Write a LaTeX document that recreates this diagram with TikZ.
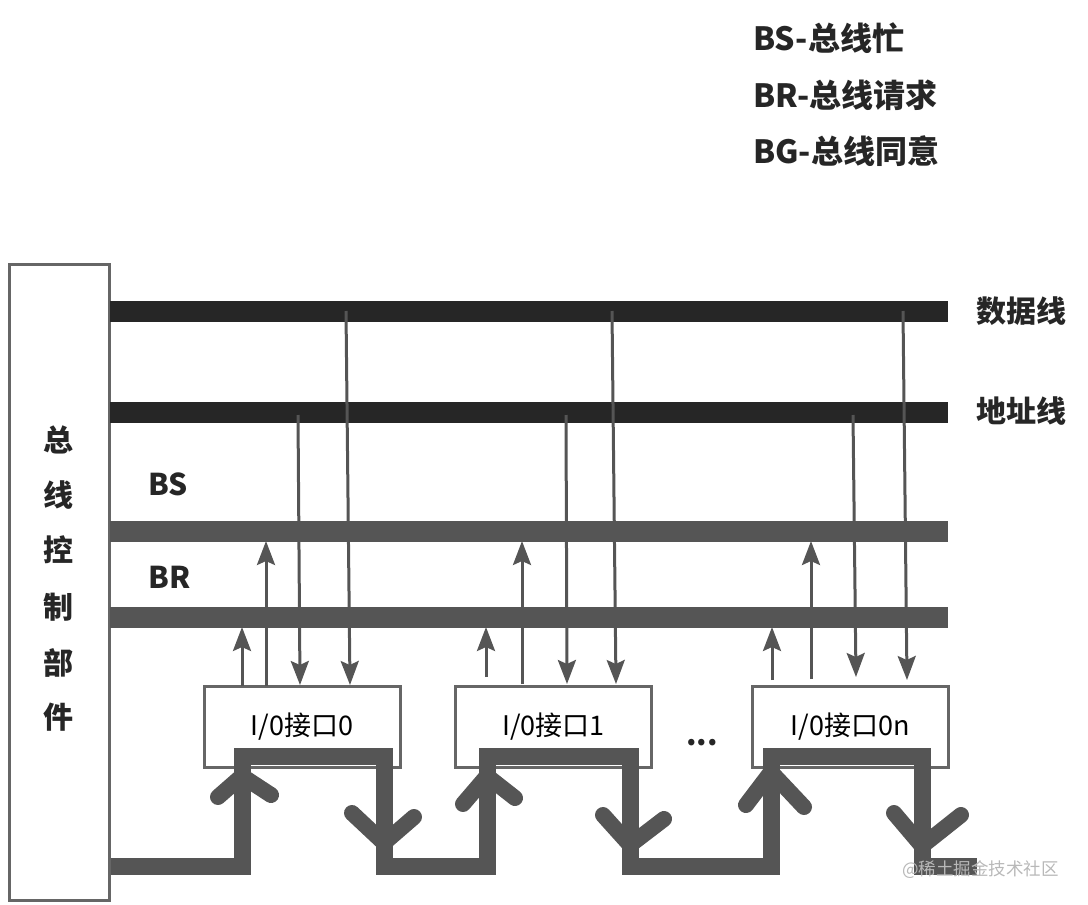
\documentclass[tikz,border=0pt]{standalone}
\usepackage{fontspec}
\setmainfont{Noto Sans CJK SC}
\usetikzlibrary{arrows.meta}
\definecolor{busdark}{HTML}{262626}
\definecolor{busgray}{HTML}{555555}
\definecolor{boxgray}{HTML}{666666}
\definecolor{wmgray}{HTML}{B8B8B8}
\tikzset{
  bus/.style={line width=21pt, busdark},
  ctl/.style={line width=21pt, busgray},
  sig/.style={line width=3pt, busgray, -{Stealth[width=18pt,length=24pt,inset=4pt]}},
  iobox/.style={draw=boxgray, line width=3pt, fill=white, minimum width=196pt, minimum height=81pt, inner sep=0pt, font=\fontsize{27}{30}\selectfont},
  bgline/.style={line width=17pt, busgray, line join=miter},
  bgwing/.style={line width=16pt, busgray, line cap=round, line join=round},
  legend/.style={anchor=base west, inner sep=0pt, font=\fontsize{32}{34}\selectfont\bfseries, text=busdark},
  lbl/.style={anchor=west, inner sep=0pt, font=\fontsize{30}{32}\selectfont\bfseries, text=busdark},
  side/.style={inner sep=0pt, font=\fontsize{30}{32}\selectfont\bfseries, text=busdark},
}
\begin{document}
\begin{tikzpicture}[x=1pt,y=-1pt]
\useasboundingbox (0,0) rectangle (1088,905);
% legend
\node[legend] (lg1) at (753,50) {BS-总线忙};
\node[legend] (lg2) at (753,107) {BR-总线请求};
\node[legend] (lg3) at (753,163) {BG-总线同意};
% control unit
\node[draw=boxgray, line width=3pt, minimum width=100pt, minimum height=636pt, inner sep=0pt] (ctrl) at (59,582) {};
\foreach \c/\yy in {总/440,线/495,控/550,制/607,部/663,件/717}
  \node[side] at (58,\yy) {\c};
% buses
\draw[bus] (110,311) -- (948,311);
\draw[bus] (110,412) -- (948,412);
\draw[ctl] (110,531) -- (948,531);
\draw[ctl] (110,617) -- (948,617);
\node[lbl] (ldata) at (976,311) {数据线};
\node[lbl] (laddr) at (976,411) {地址线};
\node[side, anchor=west] (lbs) at (148,484) {BS};
\node[side, anchor=west] (lbr) at (148,577) {BR};
% IO boxes
\node[iobox] (io0) at (302,726.5) {I/0接口0};
\node[iobox] (io1) at (553.5,726.5) {I/0接口1};
\node[iobox] (ion) at (850,726.5) {I/0接口0n};
\node[inner sep=0pt, anchor=base, font=\fontsize{30}{32}\selectfont\bfseries, text=busdark] (dots) at (702,745) {...};
% signal arrows box 0
\draw[sig] (242,686) -- (242,627);
\draw[sig] (266,686) -- (266,541);
\draw[sig] (298,415) -- (300,685);
\draw[sig] (346,311) -- (350,685);
% box 1
\draw[sig] (486,677) -- (486,627);
\draw[sig] (522,684) -- (522,541);
\draw[sig] (566,415) -- (567,684);
\draw[sig] (612,311) -- (616,684);
% box n
\draw[sig] (772,680) -- (772,627);
\draw[sig] (811,679) -- (811,541);
\draw[sig] (853,415) -- (856,677);
\draw[sig] (903,311) -- (907,680);
% BG daisy chain
\draw[bgline] (ctrl.east |- 0,866.5) -- (242,866.5) -- (242,756) -- (384,756) -- (384,866.5)
  -- (487,866.5) -- (487,756) -- (630,756) -- (630,866.5)
  -- (771,866.5) -- (771,756) -- (922,756) -- (922,866.5) -- (977,866.5);
\draw[bgwing] (218,797) -- (242,776) -- (271,795);
\draw[bgwing] (463,804) -- (487,776) -- (515,798);
\draw[bgwing] (746,805) -- (771,772) -- (804,807);
\draw[bgwing] (352,813) -- (384,843) -- (414,817);
\draw[bgwing] (603,815) -- (630,845) -- (664,819);
\draw[bgwing] (894,813) -- (922,846) -- (961,815);
% watermark
\node[anchor=west, inner sep=0pt, text=wmgray, font=\fontsize{17.5}{20}\selectfont] (wm) at (902,870) {@稀土掘金技术社区};
\end{tikzpicture}
\end{document}
